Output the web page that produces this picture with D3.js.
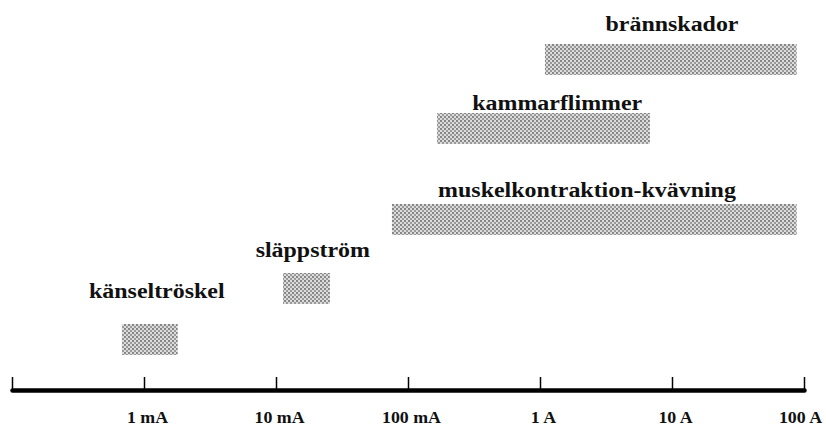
<!DOCTYPE html>
<meta charset="utf-8">
<style>
body { margin: 0; background: #fff; }
</style>
<body>
<script src="https://d3js.org/d3.v7.min.js"></script>
<script>
// current ranges (ampere)
var effects  = ["känseltröskel", "släppström", "muskelkontraktion-kvävning", "kammarflimmer", "brännskador"];
var fromAmp  = [0.00068, 0.0113, 0.0756, 0.166, 1.09];
var toAmp    = [0.0018, 0.0256, 88, 6.8, 88];
var labelAmp = [0.00125, 0.019, 2.27, 1.35, 10];

var tickAmp    = [0.0001, 0.001, 0.01, 0.1, 1, 10, 100];
var tickLabels = ["", "1 mA", "10 mA", "100 mA", "1 A", "10 A", "100 A"];

var serif = "'Liberation Serif', 'Times New Roman', Times, serif";
var width = 826, height = 428;

var svg = d3.select("body").append("svg")
    .attr("width", width)
    .attr("height", height);

// dotted grey fill
var pat = svg.append("defs").append("pattern")
    .attr("id", "dots")
    .attr("patternUnits", "userSpaceOnUse")
    .attr("width", 4).attr("height", 4);
pat.append("rect").attr("width", 4).attr("height", 4).attr("fill", "#dcdcdc");
pat.append("circle").attr("cx", 1).attr("cy", 1).attr("r", 0.9).attr("fill", "#5e5e5e");
pat.append("circle").attr("cx", 3).attr("cy", 3).attr("r", 0.9).attr("fill", "#7a7a7a");

// log scale of current
var x = d3.scaleLog()
    .domain([0.0001, 100])
    .range([12, 804]);

// rows: bar top and label baseline
var yBar = d3.scaleOrdinal()
    .domain(effects)
    .range([324, 273, 204, 113, 44]);
var yLabel = d3.scaleOrdinal()
    .domain(effects)
    .range([298, 257, 197, 110, 31]);
var barH = 31;

svg.selectAll(".bar")
    .data(effects)
  .enter().append("rect")
    .attr("class", "bar")
    .attr("x", function(d, i) { return x(fromAmp[i]); })
    .attr("width", function(d, i) { return x(toAmp[i]) - x(fromAmp[i]); })
    .attr("y", function(d) { return yBar(d); })
    .attr("height", barH)
    .attr("fill", "url(#dots)");

svg.selectAll(".lbl")
    .data(effects)
  .enter().append("g")
    .attr("class", "lbl")
    .attr("transform", function(d, i) { return "translate(" + x(labelAmp[i]) + "," + yLabel(d) + ")"; })
  .append("text")
    .attr("text-anchor", "middle")
    .attr("transform", "scale(1.14,1)")
    .style("font-family", serif)
    .style("font-weight", "bold")
    .style("font-size", "21px")
    .style("fill", "#111")
    .text(function(d) { return d; });

// axis
var axis = svg.append("g")
    .attr("transform", "translate(0,390)")
    .call(d3.axisBottom(x)
      .tickValues(tickAmp)
      .tickFormat(function(d, i) { return tickLabels[i]; })
      .tickSize(-13)
      .tickSizeOuter(0)
      .tickPadding(21));

axis.select(".domain")
    .attr("stroke", "#000")
    .attr("stroke-width", 4.5)
    .attr("stroke-linecap", "round");
axis.selectAll(".tick line")
    .attr("stroke", "#000")
    .attr("stroke-width", 1.5);
axis.selectAll(".tick text")
    .attr("transform", function(d, i) { return i == tickAmp.length - 1 ? "translate(-4,0) scale(1.05,1)" : "translate(3,0) scale(1.05,1)"; })
    .style("fill", "#111")
    .style("font-family", serif)
    .style("font-weight", "bold")
    .style("font-size", "17px");
</script>
</body>
